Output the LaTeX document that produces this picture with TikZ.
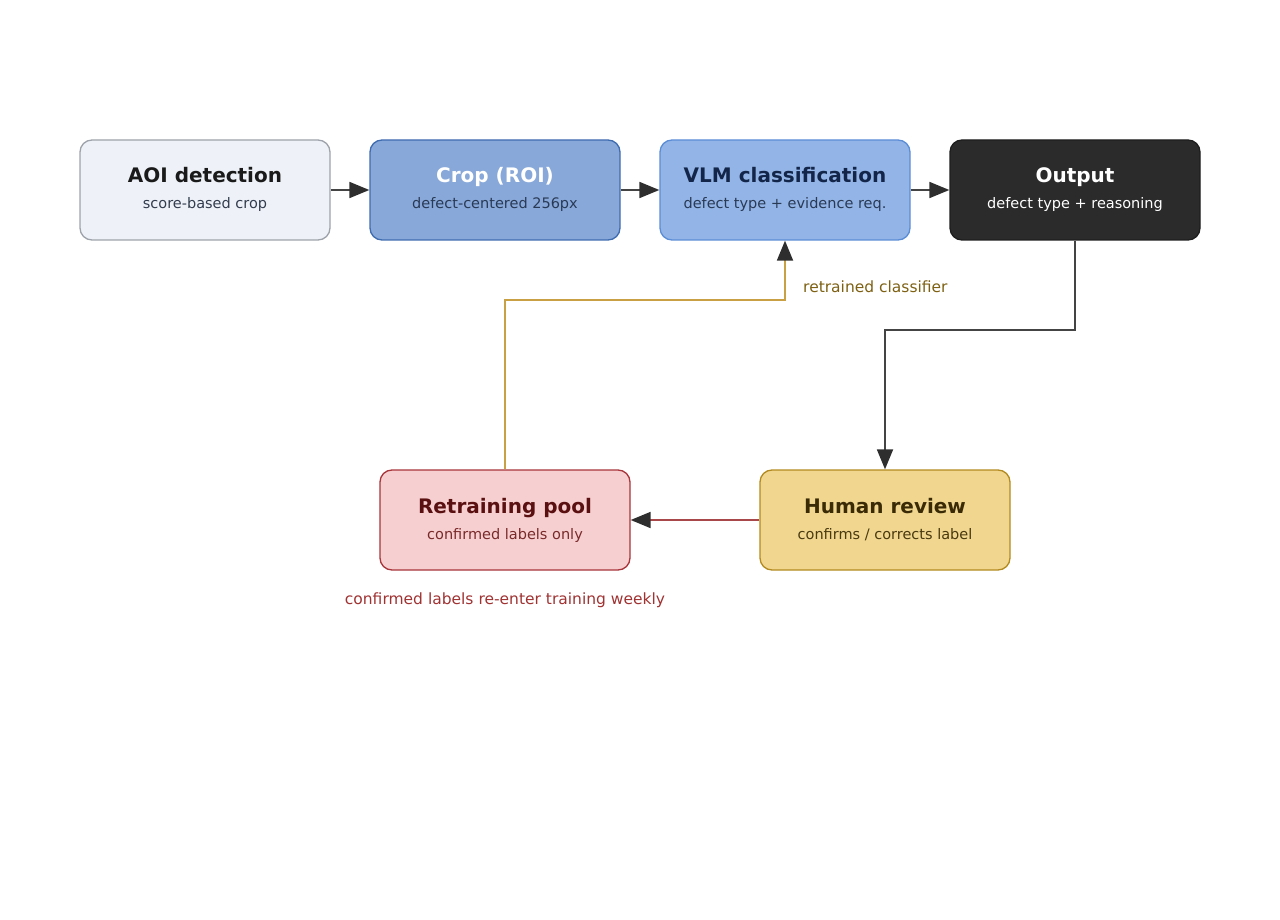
\documentclass[tikz,border=0pt]{standalone}
\usepackage{fontspec}
\setmainfont{DejaVu Sans}
\usepackage{tikz}
\usetikzlibrary{arrows.meta,positioning}

\definecolor{aoifill}{HTML}{EEF2F8}
\definecolor{aoiline}{HTML}{9EA3AB}
\definecolor{aoitext}{HTML}{1A1A1A}
\definecolor{aoisub}{HTML}{333D4F}
\definecolor{cropfill}{HTML}{87A8D9}
\definecolor{cropline}{HTML}{3F6BB0}
\definecolor{cropsub}{HTML}{2A3A55}
\definecolor{vlmfill}{HTML}{92B4E6}
\definecolor{vlmline}{HTML}{5B8DD6}
\definecolor{vlmtext}{HTML}{13264A}
\definecolor{outfill}{HTML}{2B2B2B}
\definecolor{outline}{HTML}{1E1E1E}
\definecolor{poolfill}{HTML}{F6CFD0}
\definecolor{poolline}{HTML}{A8353A}
\definecolor{pooltext}{HTML}{5A1010}
\definecolor{poolsub}{HTML}{7A2A2A}
\definecolor{humanfill}{HTML}{F0D68F}
\definecolor{humanline}{HTML}{B38A1F}
\definecolor{humantext}{HTML}{3A2A05}
\definecolor{humansub}{HTML}{4A3A10}
\definecolor{greyline}{HTML}{444444}
\definecolor{arrowgrey}{HTML}{2E2E2E}
\definecolor{goldline}{HTML}{C9A044}
\definecolor{goldtext}{HTML}{7D6012}
\definecolor{redline}{HTML}{A8484A}
\definecolor{redtext}{HTML}{A03232}

\begin{document}
\begin{tikzpicture}[x=1pt,y=-1pt,
  stage/.style={draw, rounded corners=12pt, line width=1.3pt, minimum width=250pt, minimum height=100pt, inner sep=0pt},
  ttl/.style={font=\fontsize{20}{24}\selectfont\bfseries, anchor=base, inner sep=0pt},
  sub/.style={font=\fontsize{14.5}{17}\selectfont, anchor=base, inner sep=0pt},
  note/.style={font=\fontsize{15.5}{18}\selectfont, inner sep=0pt},
  flow/.style={line width=1.8pt, draw=greyline, -{Triangle[length=20pt,width=16pt,fill=arrowgrey,color=arrowgrey]}}]
\useasboundingbox (0,0) rectangle (1280,920);

% top row
\node[stage, fill=aoifill, draw=aoiline] (aoi) at (205,190) {};
\node[ttl, text=aoitext] (aoi-t) at ([yshift=7pt]aoi.center) {AOI detection};
\node[sub, text=aoisub] (aoi-s) at ([yshift=-19pt]aoi.center) {score-based crop};

\node[stage, fill=cropfill, draw=cropline] (crop) at (495,190) {};
\node[ttl, text=white] (crop-t) at ([yshift=7pt]crop.center) {Crop (ROI)};
\node[sub, text=cropsub] (crop-s) at ([yshift=-19pt]crop.center) {defect-centered 256px};

\node[stage, fill=vlmfill, draw=vlmline] (vlm) at (785,190) {};
\node[ttl, text=vlmtext] (vlm-t) at ([yshift=7pt]vlm.center) {VLM classification};
\node[sub, text=cropsub] (vlm-s) at ([yshift=-19pt]vlm.center) {defect type + evidence req.};

\node[stage, fill=outfill, draw=outline] (out) at (1075,190) {};
\node[ttl, text=white] (out-t) at ([yshift=7pt]out.center) {Output};
\node[sub, text=white] (out-s) at ([yshift=-19pt]out.center) {defect type + reasoning};

% bottom row
\node[stage, fill=poolfill, draw=poolline] (pool) at (505,520) {};
\node[ttl, text=pooltext] (pool-t) at ([yshift=7pt]pool.center) {Retraining pool};
\node[sub, text=poolsub] (pool-s) at ([yshift=-19pt]pool.center) {confirmed labels only};

\node[stage, fill=humanfill, draw=humanline] (human) at (885,520) {};
\node[ttl, text=humantext] (human-t) at ([yshift=7pt]human.center) {Human review};
\node[sub, text=humansub] (human-s) at ([yshift=-19pt]human.center) {confirms / corrects label};

% connectors
\coordinate (bendA) at (885,330);
\coordinate (bendB) at (785,300);
\draw[flow] (aoi) -- (crop);
\draw[flow] (crop) -- (vlm);
\draw[flow] (vlm) -- (out);
\draw[flow] (out.south) |- (bendA) -- (human.north);
\draw[flow, draw=redline] (human) -- (pool);
\draw[flow, draw=goldline] (pool.north) |- (bendB) -- (vlm.south);

% notes
\node[note, text=goldtext, anchor=base west] (retrain-note) at (803,292) {retrained classifier};
\node[note, text=redtext, anchor=base] (weekly-note) at (505,604) {confirmed labels re-enter training weekly};
\end{tikzpicture}
\end{document}
